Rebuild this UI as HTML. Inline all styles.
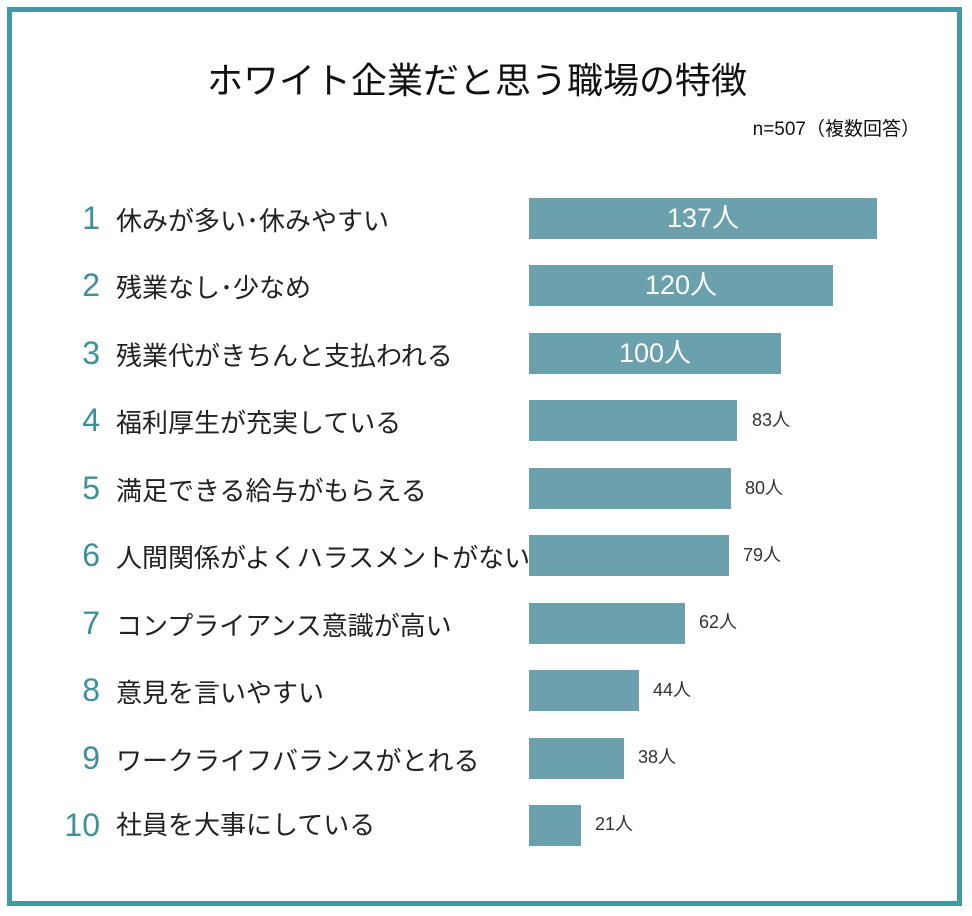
<!DOCTYPE html>
<html><head><meta charset="utf-8"><style>
body{margin:0;width:972px;height:916px;background:#fff;position:relative;overflow:hidden;font-family:"Liberation Sans","Noto Sans CJK JP",sans-serif;}
.frame{position:absolute;left:7px;top:7px;width:945px;height:889px;border:5px solid #4198a7;background:#fff;}
.t{position:absolute;white-space:nowrap;}
.bar{position:absolute;left:529px;height:41px;background:#6aa1ac;}
.num{position:absolute;color:#3e9099;font-size:32px;width:64px;text-align:right;left:36px;line-height:41px;}
.lab{position:absolute;left:116px;font-size:26px;color:#222;line-height:41px;white-space:nowrap;}
.in{color:#fff;font-size:27px;text-align:center;line-height:41px;}
.out{position:absolute;font-size:18px;color:#333;line-height:41px;}
</style></head><body>
<div class="frame"></div>
<div class="t" style="left:0;width:954px;text-align:center;top:52px;font-size:36px;color:#111;">ホワイト企業だと思う職場の特徴</div>
<div class="t" style="right:52px;top:114px;font-size:19px;color:#111;">n=507（複数回答）</div>

<div class="num" style="top:198px">1</div><div class="lab" style="top:201px">休みが多い･休みやすい</div>
<div class="bar in" style="top:198px;width:348px">137人</div>
<div class="num" style="top:265px">2</div><div class="lab" style="top:268px">残業なし･少なめ</div>
<div class="bar in" style="top:265px;width:304px">120人</div>
<div class="num" style="top:333px">3</div><div class="lab" style="top:336px">残業代がきちんと支払われる</div>
<div class="bar in" style="top:333px;width:252px">100人</div>
<div class="num" style="top:400px">4</div><div class="lab" style="top:403px">福利厚生が充実している</div>
<div class="bar" style="top:400px;width:208px"></div><div class="out" style="left:752px;top:400px">83人</div>
<div class="num" style="top:468px">5</div><div class="lab" style="top:471px">満足できる給与がもらえる</div>
<div class="bar" style="top:468px;width:202px"></div><div class="out" style="left:745px;top:468px">80人</div>
<div class="num" style="top:535px">6</div><div class="lab" style="top:538px">人間関係がよくハラスメントがない</div>
<div class="bar" style="top:535px;width:200px"></div><div class="out" style="left:743px;top:535px">79人</div>
<div class="num" style="top:603px">7</div><div class="lab" style="top:606px">コンプライアンス意識が高い</div>
<div class="bar" style="top:603px;width:156px"></div><div class="out" style="left:699px;top:602px">62人</div>
<div class="num" style="top:670px">8</div><div class="lab" style="top:673px">意見を言いやすい</div>
<div class="bar" style="top:670px;width:110px"></div><div class="out" style="left:653px;top:670px">44人</div>
<div class="num" style="top:738px">9</div><div class="lab" style="top:741px">ワークライフバランスがとれる</div>
<div class="bar" style="top:738px;width:95px"></div><div class="out" style="left:638px;top:737px">38人</div>
<div class="num" style="top:805px">10</div><div class="lab" style="top:805px">社員を大事にしている</div>
<div class="bar" style="top:805px;width:52px"></div><div class="out" style="left:595px;top:804px">21人</div>
</body></html>
